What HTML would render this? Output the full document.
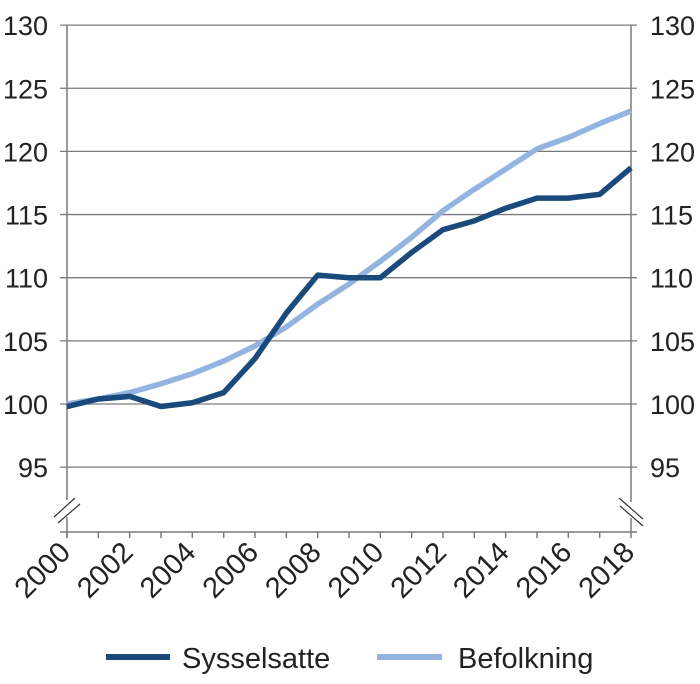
<!DOCTYPE html>
<html><head><meta charset="utf-8"><style>
body{margin:0;background:#fff;}
svg{display:block;font-family:"Liberation Sans",Arial,sans-serif;}
</style></head><body>
<svg id="chart" width="700" height="684" viewBox="0 0 700 684" xmlns="http://www.w3.org/2000/svg"></svg>
<script>
const years=[2000,2001,2002,2003,2004,2005,2006,2007,2008,2009,2010,2011,2012,2013,2014,2015,2016,2017,2018];
const sysselsatte=[99.8,100.4,100.6,99.8,100.1,100.9,103.6,107.2,110.2,110.0,110.0,112.0,113.8,114.5,115.5,116.3,116.3,116.6,118.7];
const befolkning=[100,100.4,100.9,101.6,102.4,103.4,104.6,106.1,107.9,109.5,111.3,113.2,115.3,117.0,118.6,120.2,121.1,122.2,123.2];
const yTicks=[95,100,105,110,115,120,125,130];
const xLabels=[2000,2002,2004,2006,2008,2010,2012,2014,2016,2018];

const NS="http://www.w3.org/2000/svg";
const svg=document.getElementById('chart');
const L=67,R=631,B=532;
const xs=y=>L+(y-2000)*(R-L)/18;
const ys=v=>404-(v-100)*12.63;
function mk(t,a,p){const e=document.createElementNS(NS,t);for(const k in a)e.setAttribute(k,a[k]);(p||svg).appendChild(e);return e;}

const grid=mk('g',{});


yTicks.forEach(v=>{
  const l=mk('line',{x1:60,x2:637,y1:ys(v),y2:ys(v),stroke:'#7a7a7a','stroke-width':1.3},grid);
  
  
  const t1=mk('text',{x:48,y:ys(v)+10,'font-size':27,'text-anchor':'end',fill:'#222'});
  t1.textContent=v;
  
  
  const t2=mk('text',{x:650,y:ys(v)+10,'font-size':27,'text-anchor':'start',fill:'#222'});
  t2.textContent=v;
  
  
});
const ax=mk('g',{stroke:'#7a7a7a','stroke-width':1.5,fill:'none'});


mk('line',{x1:L,x2:L,y1:25,y2:500},ax);
mk('line',{x1:L,x2:L,y1:517,y2:538},ax);
mk('line',{x1:R,x2:R,y1:25,y2:502},ax);
mk('line',{x1:R,x2:R,y1:518,y2:532},ax);
mk('line',{x1:60,x2:637,y1:B,y2:B},ax);
years.forEach(y=>mk('line',{x1:xs(y),x2:xs(y),y1:B,y2:B+6},ax));
const br=mk('g',{stroke:'#333','stroke-width':1.2});


mk('line',{x1:54,y1:517,x2:75,y2:498},br);
mk('line',{x1:58,y1:523,x2:80,y2:504},br);
mk('line',{x1:619,y1:498,x2:643,y2:519},br);
mk('line',{x1:620,y1:506,x2:643,y2:526},br);
xLabels.forEach(y=>{
  const t=mk('text',{'font-size':29,'text-anchor':'end',fill:'#222',transform:`translate(${xs(y)+5},${B+22}) rotate(-45)`});
  t.textContent=y;
  
  
});
function line(data,color,name){
  const p=mk('polyline',{points:data.map((v,i)=>xs(years[i])+','+ys(v)).join(' '),fill:'none',stroke:color,'stroke-width':5.5,'stroke-linejoin':'round'});
  
  
}
line(befolkning,'#93b4e0','befolkning-line');
line(sysselsatte,'#1a4a7c','sysselsatte-line');
const lg=mk('g',{});


mk('line',{x1:106,x2:170,y1:657,y2:657,stroke:'#1a4a7c','stroke-width':6},lg);
const l1=mk('text',{x:182,y:668,'font-size':29,fill:'#222'},lg);l1.textContent='Sysselsatte';


mk('line',{x1:377,x2:442,y1:657,y2:657,stroke:'#93b4e0','stroke-width':6},lg);
const l2=mk('text',{x:458,y:668,'font-size':29,fill:'#222'},lg);l2.textContent='Befolkning';


</script>
</body></html>
